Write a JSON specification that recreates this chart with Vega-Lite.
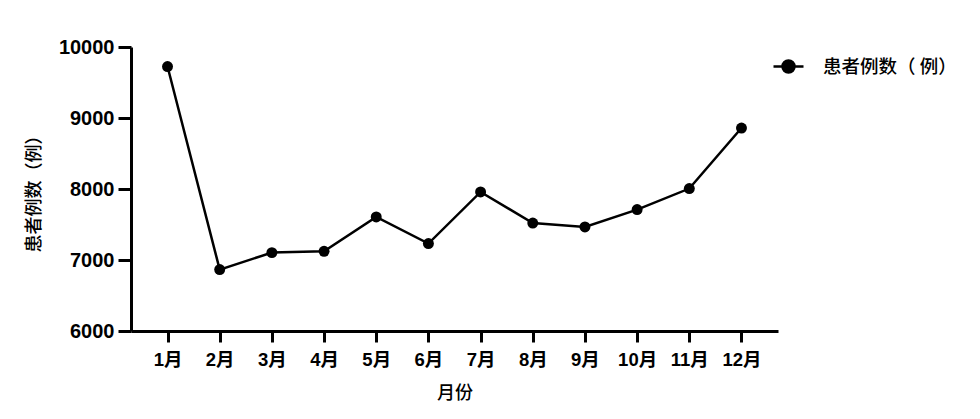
{
  "$schema": "https://vega.github.io/schema/vega-lite/v6.json",
  "autosize": {"type": "none"},
  "width": 647,
  "height": 284,
  "padding": {"left": 131, "top": 47, "right": 202, "bottom": 88},
  "background": "white",
  "config": {
    "view": {"stroke": null},
    "font": "Liberation Sans, Noto Sans CJK SC"
  },
  "data": {
    "values": [
      {"month": "1月", "count": 9725, "series": "患者例数（ 例）"},
      {"month": "2月", "count": 6865, "series": "患者例数（ 例）"},
      {"month": "3月", "count": 7104, "series": "患者例数（ 例）"},
      {"month": "4月", "count": 7122, "series": "患者例数（ 例）"},
      {"month": "5月", "count": 7606, "series": "患者例数（ 例）"},
      {"month": "6月", "count": 7231, "series": "患者例数（ 例）"},
      {"month": "7月", "count": 7958, "series": "患者例数（ 例）"},
      {"month": "8月", "count": 7521, "series": "患者例数（ 例）"},
      {"month": "9月", "count": 7465, "series": "患者例数（ 例）"},
      {"month": "10月", "count": 7710, "series": "患者例数（ 例）"},
      {"month": "11月", "count": 8006, "series": "患者例数（ 例）"},
      {"month": "12月", "count": 8859, "series": "患者例数（ 例）"}
    ]
  },
  "mark": {"type": "line", "strokeWidth": 2.5, "point": {"filled": true, "size": 120, "opacity": 1}},
  "encoding": {
    "x": {
      "field": "month", "type": "ordinal", "sort": null,
      "scale": {"type": "point", "padding": 0.7},
      "axis": {
        "title": "月份", "labelAngle": 0,
        "domainColor": "black", "domainWidth": 3,
        "tickColor": "black", "tickWidth": 3, "tickSize": 11,
        "labelFont": "Liberation Sans, Noto Sans CJK SC", "labelFontWeight": "bold", "labelFontSize": 18.5, "labelColor": "black", "labelPadding": 8,
        "titleFont": "Noto Sans CJK SC", "titleFontSize": 18, "titleFontWeight": 500, "titleColor": "black", "titlePadding": 16
      }
    },
    "y": {
      "field": "count", "type": "quantitative",
      "scale": {"domain": [6000, 10000], "nice": false, "zero": false},
      "axis": {
        "title": "患者例数（例）", "values": [6000, 7000, 8000, 9000, 10000], "format": "d", "grid": false,
        "domainColor": "black", "domainWidth": 3,
        "tickColor": "black", "tickWidth": 3, "tickSize": 13,
        "labelFont": "Liberation Sans", "labelFontWeight": "bold", "labelFontSize": 20, "labelColor": "black", "labelPadding": 4,
        "titleFont": "Noto Sans CJK SC", "titleFontSize": 18, "titleFontWeight": 500, "titleColor": "black", "titlePadding": 15
      }
    },
    "color": {
      "field": "series", "type": "nominal",
      "scale": {"range": ["black"]},
      "legend": {
        "title": null, "orient": "none", "legendX": 641, "legendY": 3,
        "symbolType": "M-1,0H1M-0.4,0A0.4,0.4 0 1,1 0.4,0A0.4,0.4 0 1,1 -0.4,0Z",
        "symbolSize": 900, "symbolStrokeWidth": 2.5, "symbolFillColor": "black", "symbolStrokeColor": "black",
        "labelFont": "Noto Sans CJK SC", "labelFontSize": 18.5, "labelFontWeight": 500, "labelColor": "black", "labelOffset": 18, "labelLimit": 300
      }
    }
  }
}
